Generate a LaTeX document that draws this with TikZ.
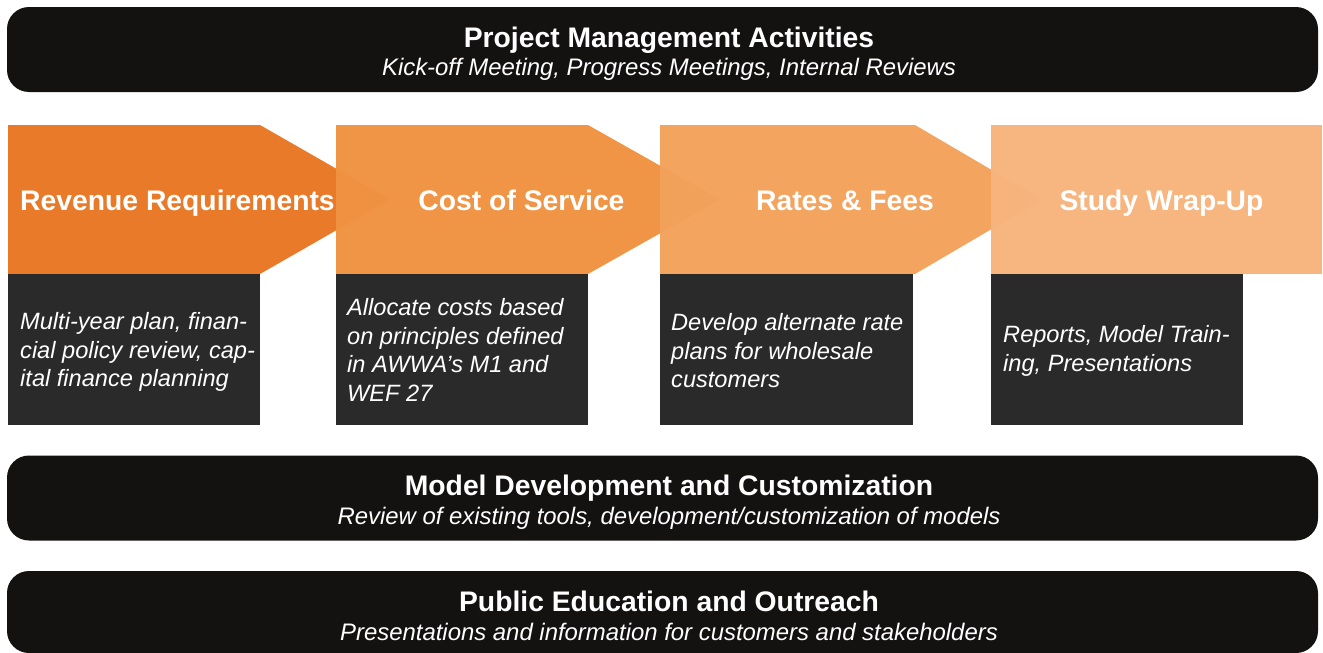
\documentclass[tikz,border=0pt]{standalone}
\usepackage{fontspec}
\setmainfont{Liberation Sans}
\definecolor{barblack}{RGB}{20,17,17}
\definecolor{darkbox}{RGB}{42,42,42}
\definecolor{orA}{RGB}{233,122,42}
\definecolor{orB}{RGB}{240,146,66}
\definecolor{orC}{RGB}{243,162,92}
\definecolor{orD}{RGB}{247,180,124}
\tikzset{
  bar/.style={fill=barblack, rounded corners=22pt, inner sep=0pt, minimum width=1311pt},
  bartitle/.style={text=white, font=\bfseries\fontsize{28.3}{34}\selectfont, anchor=base, inner sep=0pt},
  barsub/.style={text=white, font=\itshape\fontsize{23.9}{28}\selectfont, anchor=base, inner sep=0pt},
  steptitle/.style={text=white, font=\bfseries\fontsize{28.3}{34}\selectfont, anchor=base, inner sep=0pt},
  descbox/.style={fill=darkbox, inner sep=0pt, anchor=north west, minimum height=151pt},
  desctext/.style={text=white, font=\itshape\fontsize{23.6}{28.5}\selectfont, align=left, anchor=west, inner sep=0pt}
}
\begin{document}
\begin{tikzpicture}[x=1pt,y=-1pt]
\useasboundingbox (0,0) rectangle (1323,653);
\fill[white] (0,0) rectangle (1323,653);

% top bar
\node[bar, minimum height=85pt] (pm) at (662.5,49.5) {};
\node[bartitle] (pmt) at (669,47) {Project Management Activities};
\node[barsub] (pms) at (669,75) {Kick-off Meeting, Progress Meetings, Internal Reviews};

% chevrons
\fill[orA] (8,125) -- (260,125) -- (390,199.5) -- (260,274) -- (8,274) -- cycle;
\fill[orB, fill opacity=0.975] (336,125) -- (588,125) -- (720,199.5) -- (588,274) -- (336,274) -- cycle;
\fill[orC, fill opacity=0.975] (660,125) -- (915,125) -- (1042,199.5) -- (915,274) -- (660,274) -- cycle;
\fill[orD, fill opacity=0.975] (991,125) rectangle (1322,274);

\node[steptitle] (s1) at (177.5,210) {Revenue Requirements};
\node[steptitle] (s2) at (521.5,210) {Cost of Service};
\node[steptitle] (s3) at (845,210) {Rates \& Fees};
\node[steptitle] (s4) at (1161.5,210) {Study Wrap-Up};

% description boxes
\node[descbox, minimum width=252pt] (d1) at (8,274) {};
\node[descbox, minimum width=252pt] (d2) at (336,274) {};
\node[descbox, minimum width=253pt] (d3) at (660,274) {};
\node[descbox, minimum width=252pt] (d4) at (991,274) {};

\node[desctext] (t1) at (20,352) {Multi-year plan, finan-\\cial policy review, cap-\\ital finance planning};
\node[desctext] (t2) at (347,350) {Allocate costs based\\on principles defined\\in AWWA’s M1 and\\WEF 27};
\node[desctext] (t3) at (671,351) {Develop alternate rate\\plans for wholesale\\customers};
\node[desctext] (t4) at (1003,351) {Reports, Model Train-\\ing, Presentations};

% model bar
\node[bar, minimum height=85pt] (md) at (662.5,498) {};
\node[bartitle] (mdt) at (669,495) {Model Development and Customization};
\node[barsub] (mds) at (669,524) {Review of existing tools, development/customization of models};

% public bar
\node[bar, minimum height=82pt] (pe) at (662.5,612) {};
\node[bartitle] (pet) at (669,611) {Public Education and Outreach};
\node[barsub] (pes) at (669,640) {Presentations and information for customers and stakeholders};
\end{tikzpicture}
\end{document}
